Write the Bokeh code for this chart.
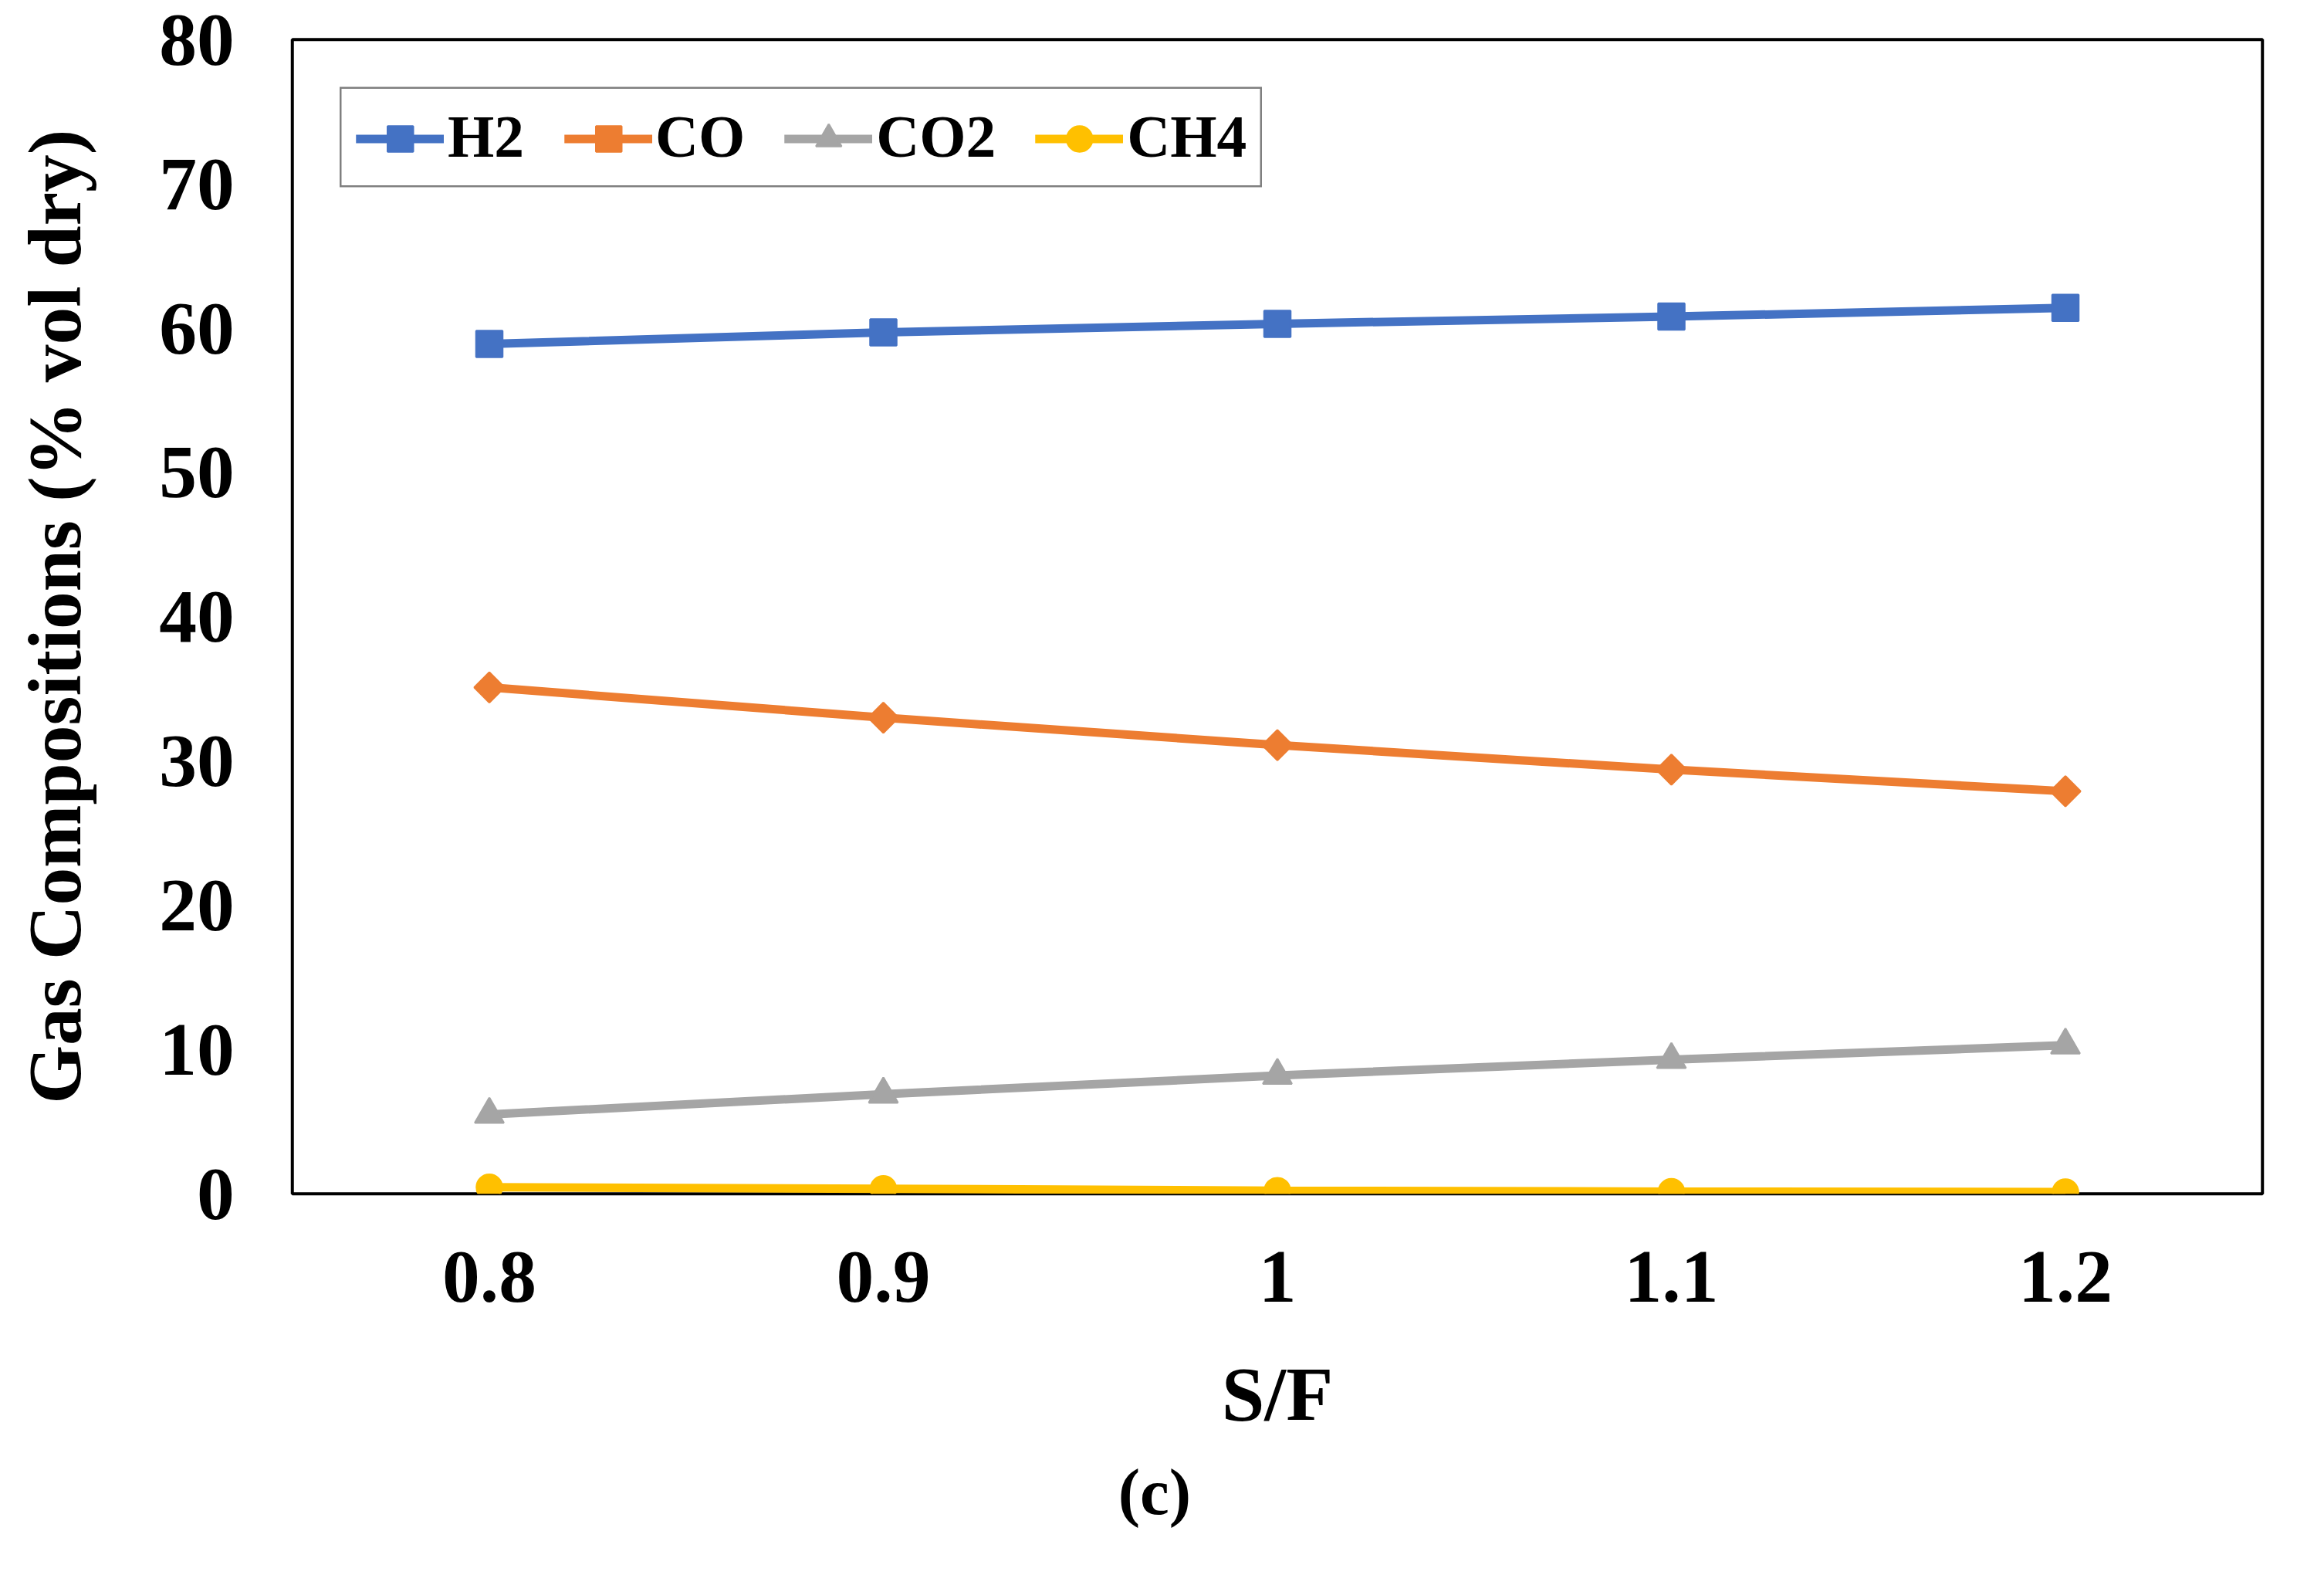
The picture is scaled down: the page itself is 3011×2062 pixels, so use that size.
from math import pi
from bokeh.plotting import figure
from bokeh.models import FixedTicker, Range1d, Title
from bokeh.embed import file_html
from bokeh.resources import INLINE

sf = [0.8, 0.9, 1.0, 1.1, 1.2]
sf_labels = ["0.8", "0.9", "1", "1.1", "1.2"]
h2 = [58.9, 59.7, 60.3, 60.8, 61.4]
co = [35.1, 33.0, 31.1, 29.4, 27.9]
co2 = [5.5, 6.9, 8.2, 9.3, 10.3]
ch4 = [0.45, 0.35, 0.22, 0.15, 0.12]
y_ticks = [0, 10, 20, 30, 40, 50, 60, 70, 80]

FONT = "Liberation Serif"
# very large fonts break Bokeh's text measuring here, so the page is drawn
# small and blown up with a CSS transform. Bokeh measures its box after the
# transform, so the model size is the drawing size divided by SCALE.
SCALE = 2.5

p = figure(width=479, height=327, output_backend="svg", toolbar_location=None,
           x_range=Range1d(0.75, 1.25), y_range=Range1d(0, 80),
           min_border_left=151, min_border_right=25,
           min_border_top=20, min_border_bottom=199)
p.xgrid.grid_line_color = None
p.ygrid.grid_line_color = None
p.outline_line_color = "black"
p.outline_line_width = 1.6

for ax in (p.xaxis, p.yaxis):
    ax.axis_line_color = None
    ax.major_tick_line_color = None
    ax.minor_tick_line_color = None
    ax.major_label_text_font = FONT
    ax.major_label_text_font_style = "bold"
    ax.major_label_text_font_size = "39px"
    ax.major_label_text_color = "black"
    ax.axis_label_text_font = FONT
    ax.axis_label_text_font_style = "bold"
    ax.axis_label_text_color = "black"

p.xaxis.ticker = FixedTicker(ticks=sf)
p.xaxis.major_label_overrides = {t: l for t, l in zip(sf, sf_labels)}
p.xaxis.major_label_standoff = 24
p.xaxis.axis_label = "S/F"
p.xaxis.axis_label_text_font_size = "40px"
p.xaxis.axis_label_standoff = 22

p.yaxis.ticker = FixedTicker(ticks=y_ticks)
p.yaxis.major_label_standoff = 24
p.yaxis.axis_label = "Gas Compositions (% vol dry)"
p.yaxis.axis_label_text_font_size = "39px"
p.yaxis.axis_label_standoff = 30

series = [
    ("H2", h2, "#4472C4", "square", 13.6, 0),
    ("CO", co, "#ED7D31", "square", 11, pi / 4),
    ("CO2", co2, "#A5A5A5", "triangle", 15, 0),
    ("CH4", ch4, "#FFC000", "circle", 13.2, 0),
]
for name, vals, color, marker, size, ang in series:
    p.line(sf, vals, color=color, line_width=4.4, legend_label=name)
    p.scatter(sf, vals, marker=marker, size=size, angle=ang,
              fill_color=color, line_color=color, legend_label=name)

leg = p.legend[0]
leg.orientation = "horizontal"
leg.location = "top_left"
leg.margin = 25
leg.border_line_color = "black"
leg.border_line_width = 1.6
leg.padding = 7
leg.spacing = 20
leg.glyph_width = 46
leg.glyph_height = 33
leg.label_height = 33
leg.label_standoff = 2
leg.label_text_font = FONT
leg.label_text_font_style = "bold"
leg.label_text_font_size = "31px"
leg.label_text_color = "black"

panel = Title(text="(c)", align="left", offset=428,
              text_font=FONT, text_font_style="bold",
              text_font_size="34px", text_color="black")
p.add_layout(panel, "below")

html = file_html(p, INLINE)
style = "<style>body{transform:scale(%s);transform-origin:0 0;}</style>" % SCALE
html = html.replace("</head>", style + "</head>", 1)
open("out.html", "w").write(html)
